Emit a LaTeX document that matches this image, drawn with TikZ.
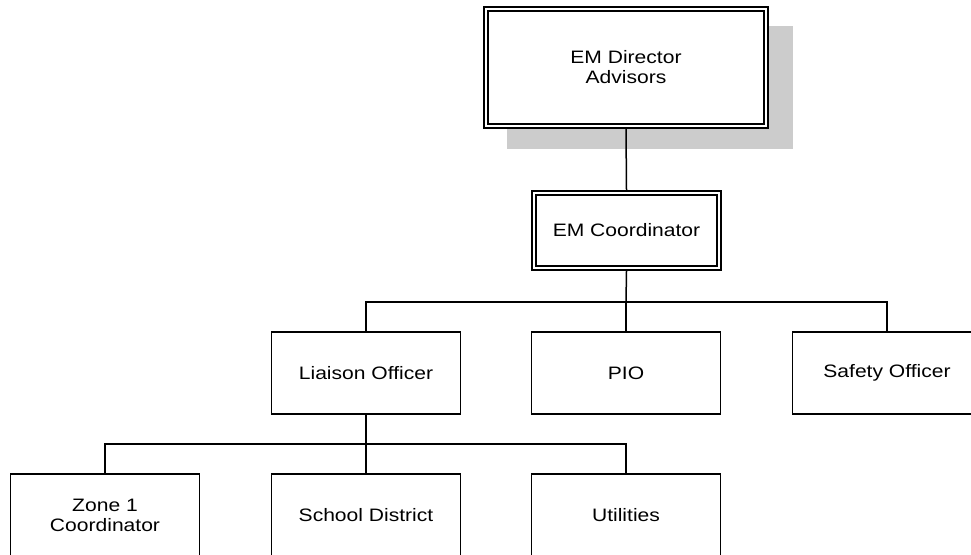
\documentclass[tikz,border=0pt]{standalone}
\usepackage{fontspec}
\setmainfont[FakeStretch=1.17]{Liberation Sans}
\begin{document}
\begin{tikzpicture}[x=1pt,y=-1pt,
  box/.style={draw=black, line width=1.5pt, fill=white, inner sep=0pt,
    minimum width=189pt, minimum height=82pt, align=center,
    font=\fontsize{18}{20}\selectfont},
  dbox/.style={draw=black, line width=1.6pt, double=white, double distance=2pt,
    fill=white, inner sep=0pt, outer sep=3pt, align=center,
    font=\fontsize{18}{20}\selectfont},
  conn/.style={draw=black, line width=1.5pt}]
\useasboundingbox (0,0) rectangle (971,554);
\clip (0,0) rectangle (971,554);
% shadow
\fill[black!20] (507,26) rectangle (793,149);
% nodes
\node[dbox, minimum width=280pt, minimum height=117pt] (dir) at (626,67.5) {EM Director\\Advisors};
\node[dbox, minimum width=185pt, minimum height=75pt] (coord) at (626.5,230.5) {EM Coordinator};
\node[box] (liaison) at (366,373) {Liaison Officer};
\node[box] (pio) at (626,373) {PIO};
\node[box] (safety) at (887,373) {Safety Officer};
\node[box] (zone) at (105,515) {Zone 1\\Coordinator};
\node[box] (school) at (366,515) {School District};
\node[box] (util) at (626,515) {Utilities};
% connectors
\coordinate (busA) at (626,302);
\coordinate (busB) at (366,444);
\draw[conn] (dir.south) -- (coord.north);
\draw[conn] (coord.south) -- (busA);
\draw[conn] (liaison.north) |- (busA) -| (safety.north);
\draw[conn] (busA) -- (pio.north);
\draw[conn] (liaison.south) -- (busB);
\draw[conn] (zone.north) |- (busB) -| (util.north);
\draw[conn] (busB) -- (school.north);
\end{tikzpicture}
\end{document}
